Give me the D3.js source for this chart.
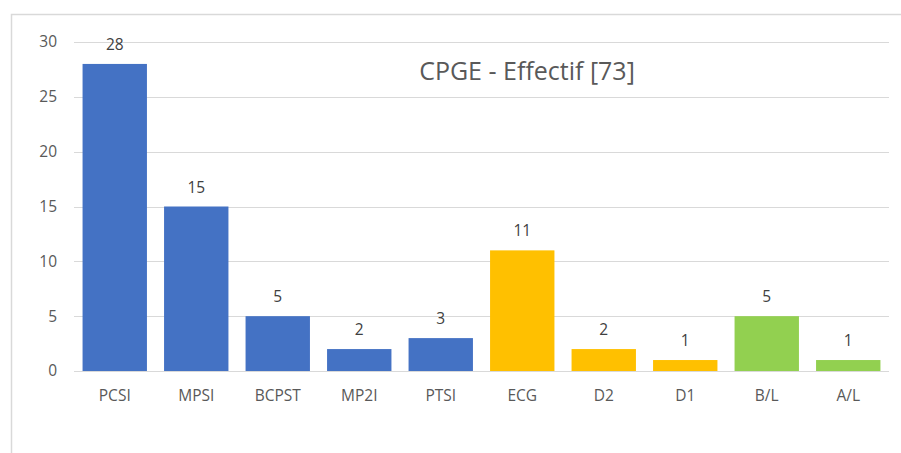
<!DOCTYPE html>
<html><head><meta charset="utf-8">
<script src="https://cdn.jsdelivr.net/npm/d3@7"></script>
<style>body{margin:0;background:#fff}svg{display:block}</style>
</head><body>
<svg id="c" width="901" height="453"></svg>
<script>
const categories = ["PCSI","MPSI","BCPST","MP2I","PTSI","ECG","D2","D1","B/L","A/L"];
const values = [28,15,5,2,3,11,2,1,5,1];
const groups = ["sci","sci","sci","sci","sci","eco","eco","eco","lit","lit"];
const yTicks = [0,5,10,15,20,25,30];
const title = "CPGE - Effectif [73]";
const colors = {sci:"#4472C4", eco:"#FFC000", lit:"#92D050"};

const svg = d3.select("#c");
const font = "'Open Sans', 'Segoe UI', sans-serif";
svg.append("rect").attr("x",11.5).attr("y",14.5).attr("width",900).attr("height",450)
  .attr("fill","#fff").attr("stroke","#d9d9d9").attr("stroke-width",1.5);

const x = d3.scaleBand().domain(categories).range([74,889]).paddingInner(0.21).paddingOuter(0.105);
const y = d3.scaleLinear().domain([0,30]).range([371,42]);

const g = svg.append("g");
g.selectAll("line.grid").data(yTicks).join("line")
  .attr("x1",74).attr("x2",889).attr("y1",d=>Math.round(y(d))+0.5).attr("y2",d=>Math.round(y(d))+0.5)
  .attr("stroke","#d9d9d9").attr("stroke-width",1.2);

const yAxis = d3.axisLeft(y).tickValues(yTicks).tickSize(0).tickPadding(0);
const ya = svg.append("g").attr("transform","translate(57,0)").call(yAxis);
ya.select(".domain").remove();
ya.selectAll("text").attr("font-family",font).attr("font-size",15.5).attr("fill","#595959");

g.selectAll("rect.bar").data(categories).join("rect")
  .attr("x",d=>x(d)).attr("width",x.bandwidth())
  .attr("y",(d,i)=>y(values[i])).attr("height",(d,i)=>y(0)-y(values[i]))
  .attr("fill",(d,i)=>colors[groups[i]]);

g.selectAll("text.lbl").data(categories).join("text")
  .attr("x",d=>x(d)+x.bandwidth()/2).attr("y",(d,i)=>y(values[i])-14)
  .attr("text-anchor","middle").attr("font-family",font).attr("font-size",15.5).attr("fill","#404040")
  .text((d,i)=>values[i]);

const xAxis = d3.axisBottom(x).tickSize(0).tickPadding(0);
const xa = svg.append("g").attr("transform","translate(0,396)").call(xAxis);
xa.select(".domain").remove();
xa.selectAll("text").attr("font-family",font).attr("font-size",15.5).attr("fill","#595959").attr("dy","0.35em");

svg.append("text").attr("x",527).attr("y",80).attr("text-anchor","middle")
  .attr("font-family",font).attr("font-size",25).attr("fill","#595959").text(title);
</script>
</body></html>
